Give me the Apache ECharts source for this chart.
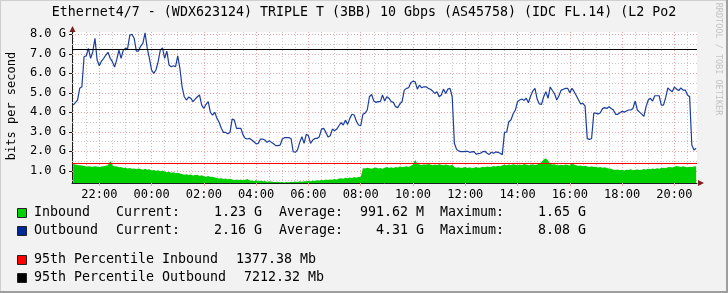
<!DOCTYPE html>
<html><head><meta charset="utf-8">
<script src="https://cdn.jsdelivr.net/npm/echarts@6/dist/echarts.min.js"></script>
<style>html,body{margin:0;padding:0;background:#f2f2f2}#c{width:728px;height:293px}</style>
</head><body><div id="c"></div>
<script>
const titleText = 'Ethernet4/7 - (WDX623124) TRIPLE T (3BB) 10 Gbps (AS45758) (IDC FL.14) (L2 Po2';
const yAxisName = 'bits per second';
const watermark = 'RRDTOOL / TOBI OETIKER';
// time in minutes since 00:00 of day 1; first sample 21:00, 5-minute steps
const startMinute = 1260;
const stepMinutes = 5;
// values in G bits per second
const inbound = [
1.35,1.33,1.30,1.28,1.27,1.25,1.22,1.23,1.22,1.21,
1.23,1.22,1.20,1.22,1.24,1.26,1.30,1.50,1.28,1.22,
1.24,1.18,1.20,1.15,1.16,1.12,1.14,1.10,1.12,1.08,
1.12,1.09,1.06,1.10,1.05,1.08,1.02,1.04,1.00,1.03,
0.98,1.01,0.96,0.92,0.95,0.90,0.93,0.88,0.90,0.86,
0.84,0.80,0.83,0.79,0.81,0.76,0.78,0.80,0.74,0.77,
0.72,0.70,0.73,0.68,0.70,0.66,0.63,0.60,0.62,0.58,
0.60,0.57,0.59,0.55,0.52,0.55,0.53,0.56,0.52,0.54,
0.58,0.50,0.50,0.48,0.52,0.47,0.49,0.46,0.48,0.44,
0.46,0.45,0.43,0.42,0.44,0.41,0.42,0.40,0.43,0.41,
0.44,0.42,0.45,0.43,0.46,0.44,0.47,0.46,0.49,0.47,
0.50,0.48,0.52,0.50,0.53,0.51,0.55,0.53,0.56,0.54,
0.58,0.56,0.60,0.62,0.59,0.64,0.62,0.66,0.63,0.68,
0.65,0.70,0.67,1.15,1.12,1.16,1.13,1.10,1.14,1.17,
1.12,1.15,1.11,1.16,1.19,1.14,1.18,1.15,1.20,1.17,
1.22,1.19,1.21,1.24,1.20,1.26,1.32,1.55,1.36,1.33,
1.30,1.34,1.31,1.35,1.32,1.29,1.33,1.30,1.34,1.31,
1.28,1.32,1.30,1.27,1.31,1.20,1.16,1.18,1.14,1.17,
1.20,1.15,1.18,1.13,1.16,1.19,1.14,1.17,1.21,1.18,
1.22,1.19,1.21,1.25,1.22,1.26,1.23,1.28,1.31,1.29,
1.32,1.30,1.34,1.31,1.29,1.33,1.30,1.35,1.32,1.28,
1.31,1.34,1.30,1.33,1.36,1.45,1.58,1.65,1.52,1.36,
1.32,1.34,1.30,1.28,1.31,1.29,1.33,1.30,1.27,1.42,
1.31,1.28,1.25,1.27,1.24,1.26,1.22,1.20,1.23,1.19,
1.21,1.17,1.20,1.16,1.18,1.14,1.12,1.10,1.06,1.04,
1.07,1.03,1.05,1.02,1.06,1.04,1.08,1.03,1.05,1.07,
1.04,1.06,1.09,1.07,1.10,1.08,1.12,1.09,1.13,1.10,
1.14,1.16,1.13,1.18,1.20,1.17,1.21,1.25,1.22,1.19,
1.23,1.20,1.18,1.21,1.19,1.22,1.23
];
const outbound = [
4.37,4.50,4.63,5.23,5.31,6.85,6.90,7.28,6.77,7.11,
7.79,6.68,6.39,6.63,6.77,6.94,7.08,6.77,6.60,6.32,
6.70,7.19,6.77,7.19,7.28,7.28,7.96,8.00,7.79,7.14,
7.14,7.40,7.54,8.08,7.28,6.77,6.17,6.00,6.17,6.60,
7.19,7.31,6.77,7.14,6.43,6.34,6.39,6.34,6.90,6.25,
5.31,4.80,4.63,4.78,4.72,4.55,4.68,4.80,4.89,4.37,
4.20,4.41,4.55,4.00,3.86,4.00,3.69,3.49,3.18,2.97,
2.97,2.90,2.97,3.66,3.60,3.18,3.18,3.18,2.84,2.66,
2.63,2.66,2.58,2.49,2.38,2.41,2.63,2.63,2.58,2.46,
2.55,2.46,2.39,2.29,2.29,2.32,2.63,2.70,2.70,2.70,
2.66,1.98,1.95,2.07,2.46,2.75,2.41,2.87,2.80,2.41,
2.58,2.66,2.66,2.75,3.14,3.18,2.97,2.73,2.80,3.14,
3.06,3.14,3.31,3.47,3.35,3.60,3.38,3.69,3.90,3.86,
3.55,3.35,3.31,3.90,3.96,4.12,4.80,4.92,4.58,4.51,
4.55,4.55,4.89,4.58,4.80,4.72,4.55,4.51,4.29,4.24,
4.44,4.55,5.14,5.23,5.26,5.52,5.60,5.57,5.19,5.40,
5.26,5.31,5.31,5.23,5.18,5.09,4.97,5.06,4.80,4.89,
5.19,4.97,5.19,5.23,4.80,2.41,2.10,2.02,1.98,1.98,
2.00,2.00,1.95,1.97,1.98,1.86,1.88,1.90,1.98,2.00,
1.90,1.84,1.95,1.90,1.97,1.95,1.90,1.83,2.97,2.99,
3.52,3.62,3.93,4.12,4.55,4.63,4.68,4.61,4.72,4.49,
4.84,5.09,5.23,4.68,4.43,4.41,4.80,5.06,4.72,5.30,
5.12,4.95,4.63,4.85,5.14,5.18,5.23,5.23,5.01,5.23,
5.06,4.85,4.63,4.43,4.46,4.32,2.65,2.61,2.66,3.96,
3.96,3.91,3.98,4.19,4.24,4.20,4.29,4.20,4.12,3.90,
3.90,3.98,4.05,4.01,4.07,4.12,4.12,4.20,4.58,4.12,
4.01,3.91,3.79,4.29,4.63,4.72,4.58,4.85,4.85,4.85,
4.37,4.37,4.75,5.25,5.14,5.06,5.30,5.19,5.12,5.25,
5.14,5.14,4.89,4.80,2.32,2.07,2.16
];
const percentileIn = 1.37738;
const percentileOut = 7.21232;
const yTickValues = [1, 2, 3, 4, 5, 6, 7, 8];
const yMinorValues = [0.5, 1.5, 2.5, 3.5, 4.5, 5.5, 6.5, 7.5];
const xTickMinutes = [1320, 1440, 1560, 1680, 1800, 1920, 2040, 2160, 2280, 2400, 2520, 2640];
const xMinorStep = 30;
const xRange = [1257.3, 2691.9];
const yRange = [0.375, 8.12];
const legendRows = [
  {name: 'Inbound', color: '#00CF00', current: '1.23 G', average: '991.62 M', maximum: '1.65 G'},
  {name: 'Outbound', color: '#002A97', current: '2.16 G', average: '4.31 G', maximum: '8.08 G'}
];
const percentileRows = [
  {name: '95th Percentile Inbound', color: '#FF0000', value: '1377.38 Mb'},
  {name: '95th Percentile Outbound', color: '#000000', value: '7212.32 Mb'}
];

const MONO = '"DejaVu Sans Mono", monospace';
const inData = inbound.map((v, i) => [startMinute + i * stepMinutes, v]);
const outData = outbound.map((v, i) => [startMinute + i * stepMinutes, v]);
const pad = n => (n < 10 ? '0' : '') + n;

const gridMinor = '#c8c8c8';
const gridMajor = '#eea3a3';
const gridLines = [];
for (let t = 1260; t <= xRange[1]; t += xMinorStep) {
  if (xTickMinutes.indexOf(t) < 0) gridLines.push({xAxis: t, lineStyle: {color: gridMinor, type: [1, 2], width: 1}});
}
xTickMinutes.forEach(t => gridLines.push({xAxis: t, lineStyle: {color: gridMajor, type: [1, 2], width: 1}}));
yMinorValues.forEach(v => gridLines.push({yAxis: v, lineStyle: {color: gridMinor, type: [1, 2], width: 1}}));
yTickValues.forEach(v => gridLines.push({yAxis: v, lineStyle: {color: gridMajor, type: [1, 2], width: 1}}));

const graphics = [
  {type: 'rect', shape: {x: 0, y: 0, width: 728, height: 1}, style: {fill: '#cfcfcf'}, silent: true},
  {type: 'rect', shape: {x: 0, y: 0, width: 1, height: 293}, style: {fill: '#cfcfcf'}, silent: true},
  {type: 'rect', shape: {x: 0, y: 291, width: 728, height: 2}, style: {fill: '#9e9e9e'}, silent: true},
  {type: 'rect', shape: {x: 726, y: 0, width: 2, height: 293}, style: {fill: '#9e9e9e'}, silent: true},
  {type: 'text', x: 364, y: 13, style: {text: titleText, fontFamily: MONO, fontSize: 13.3, fill: '#000', textAlign: 'center', textVerticalAlign: 'middle'}},
  {type: 'text', x: 12, y: 106, rotation: Math.PI / 2, style: {text: yAxisName, fontFamily: MONO, fontSize: 12, fill: '#000', textAlign: 'center', textVerticalAlign: 'middle'}},
  {type: 'text', x: 718, y: 59, rotation: -Math.PI / 2, style: {text: watermark, fontFamily: MONO, fontSize: 8.5, fill: '#c4c4c4', textAlign: 'center', textVerticalAlign: 'middle'}},
  {type: 'polygon', shape: {points: [[69.5, 32], [75.5, 32], [72.5, 26]]}, style: {fill: '#801f1f'}, silent: true},
  {type: 'polygon', shape: {points: [[698, 180], [698, 186], [704, 183]]}, style: {fill: '#801f1f'}, silent: true}
];
const rowYs = [213, 231];
legendRows.forEach((r, i) => {
  const y = rowYs[i];
  const st = {fontFamily: MONO, fontSize: 13.3, fill: '#000', textVerticalAlign: 'middle'};
  graphics.push({type: 'rect', shape: {x: 17.5, y: y - 4.5, width: 9, height: 9}, style: {fill: r.color, stroke: '#222', lineWidth: 1}});
  graphics.push({type: 'text', x: 34, y: y, style: Object.assign({text: r.name, textAlign: 'left'}, st)});
  graphics.push({type: 'text', x: 116, y: y, style: Object.assign({text: 'Current:', textAlign: 'left'}, st)});
  graphics.push({type: 'text', x: 262, y: y, style: Object.assign({text: r.current, textAlign: 'right'}, st)});
  graphics.push({type: 'text', x: 279, y: y, style: Object.assign({text: 'Average:', textAlign: 'left'}, st)});
  graphics.push({type: 'text', x: 424, y: y, style: Object.assign({text: r.average, textAlign: 'right'}, st)});
  graphics.push({type: 'text', x: 440, y: y, style: Object.assign({text: 'Maximum:', textAlign: 'left'}, st)});
  graphics.push({type: 'text', x: 586, y: y, style: Object.assign({text: r.maximum, textAlign: 'right'}, st)});
});
const pRowYs = [260, 278];
const pValX = [236, 244];
percentileRows.forEach((r, i) => {
  const y = pRowYs[i];
  const st = {fontFamily: MONO, fontSize: 13.3, fill: '#000', textVerticalAlign: 'middle'};
  graphics.push({type: 'rect', shape: {x: 17.5, y: y - 4.5, width: 9, height: 9}, style: {fill: r.color, stroke: '#222', lineWidth: 1}});
  graphics.push({type: 'text', x: 34, y: y, style: Object.assign({text: r.name, textAlign: 'left'}, st)});
  graphics.push({type: 'text', x: pValX[i], y: y, style: Object.assign({text: r.value, textAlign: 'left'}, st)});
});

const chart = echarts.init(document.getElementById('c'), null, {renderer: 'canvas'});
chart.setOption({
  animation: false,
  backgroundColor: '#f2f2f2',
  grid: {left: 72, top: 32, width: 625, height: 151, show: true, backgroundColor: '#ffffff', borderWidth: 0},
  xAxis: {
    type: 'value', min: xRange[0], max: xRange[1],
    axisLine: {show: true, lineStyle: {color: '#1f1f1f', width: 1}},
    axisTick: {show: true, customValues: xTickMinutes, length: 3, lineStyle: {color: gridMajor}},
    axisLabel: {show: true, customValues: xTickMinutes, margin: 6, fontFamily: MONO, fontSize: 12, color: '#000',
      formatter: v => pad(Math.floor(v / 60) % 24) + ':' + pad(Math.round(v % 60))},
    splitLine: {show: false}
  },
  yAxis: {
    type: 'value', min: yRange[0], max: yRange[1],
    axisLine: {show: true, lineStyle: {color: '#1f1f1f', width: 1}},
    axisTick: {show: true, customValues: yTickValues, length: 3, lineStyle: {color: '#1f1f1f'}},
    axisLabel: {show: true, customValues: yTickValues, margin: 6, fontFamily: MONO, fontSize: 12, color: '#000',
      formatter: v => v.toFixed(1) + ' G'},
    splitLine: {show: false}
  },
  series: [
    {
      type: 'line', name: 'Inbound', data: inData, z: 3, symbol: 'none', showSymbol: false,
      lineStyle: {width: 0, color: '#00CF00'}, areaStyle: {color: '#00CF00', opacity: 1, origin: 'start'},
      silent: true,
      markLine: {silent: true, symbol: ['none', 'none'], z: 1, label: {show: false}, data: gridLines, animation: false}
    },
    {
      type: 'line', name: 'Outbound', data: outData, z: 4, symbol: 'none', showSymbol: false,
      lineStyle: {width: 1.2, color: '#1a3d9e'}, silent: true,
      markLine: {silent: true, symbol: ['none', 'none'], z: 6, label: {show: false}, animation: false,
        data: [
          {yAxis: percentileIn, lineStyle: {color: '#FF0000', type: 'solid', width: 1}},
          {yAxis: percentileOut, lineStyle: {color: '#000000', type: 'solid', width: 1}}
        ]}
    }
  ],
  graphic: graphics
});
</script></body></html>
